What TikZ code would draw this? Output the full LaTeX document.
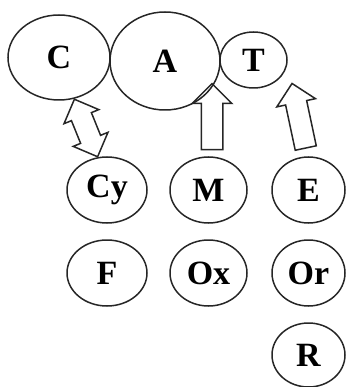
\documentclass[tikz,border=0pt]{standalone}
\usepackage{fontspec}
\setmainfont{Liberation Serif}
\usetikzlibrary{shapes.geometric,shapes.arrows}
\begin{document}
\begin{tikzpicture}[x=1pt,y=-1pt,
  blob/.style={draw=black!85, line width=1.5pt, ellipse, inner sep=0pt,
    font=\fontsize{34}{36}\selectfont\bfseries},
  uparrow/.style={draw=black!85, line width=1.5pt, single arrow,
    single arrow head extend=9pt, inner xsep=0pt, inner ysep=10pt,
    minimum height=#1},
  twoarrow/.style={draw=black!85, line width=1.5pt, double arrow,
    double arrow head extend=8pt, inner xsep=0pt, inner ysep=10pt,
    minimum height=#1}]
\useasboundingbox (0,0) rectangle (345,387);
% top row
\node[blob, minimum width=102pt, minimum height=85pt] (C) at (59,57.5) {C};
\node[blob, minimum width=110pt, minimum height=98pt] (A) at (165,61) {A};
\node[blob, minimum width=67pt, minimum height=56pt] (T) at (253.5,60) {T};
% second row
\node[blob, minimum width=80pt, minimum height=66pt] (Cy) at (107,190) {Cy};
\node[blob, minimum width=77pt, minimum height=66pt] (M) at (208.5,190) {M};
\node[blob, minimum width=73pt, minimum height=66pt] (E) at (308.5,190) {E};
% third row
\node[blob, minimum width=80pt, minimum height=66pt] (F) at (107,273) {F};
\node[blob, minimum width=77pt, minimum height=66pt] (Ox) at (208.5,273) {Ox};
\node[blob, minimum width=73pt, minimum height=66pt] (Or) at (308.5,273) {Or};
% fourth row
\node[blob, minimum width=73pt, minimum height=64pt] (R) at (308.5,355) {R};
% block arrows
\node[twoarrow=62pt, rotate=-68] (a1) at (86,128) {};
\node[uparrow=66pt, rotate=90] (a2) at (212,122) {};
\node[uparrow=66pt, rotate=102] (a3) at (300,121) {};
\end{tikzpicture}
\end{document}
